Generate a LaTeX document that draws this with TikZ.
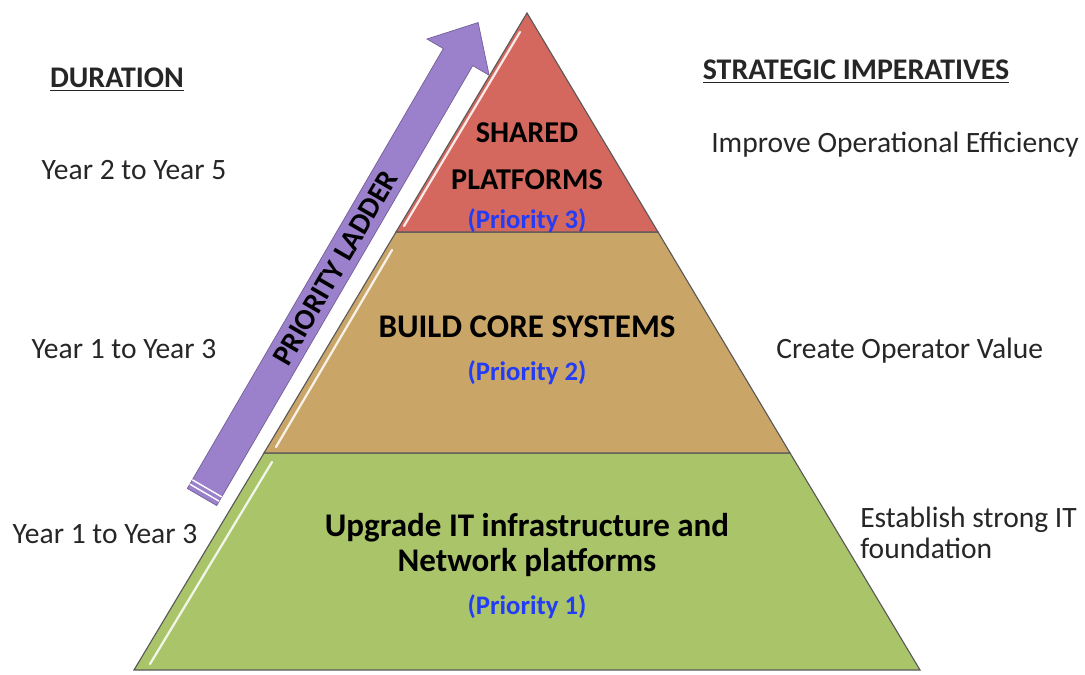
\documentclass[tikz,border=0pt]{standalone}
\usepackage{fontspec}
\setmainfont{Carlito}
\usetikzlibrary{positioning}
\definecolor{topred}{RGB}{212,104,94}
\definecolor{midtan}{RGB}{202,165,104}
\definecolor{basegreen}{RGB}{170,196,106}
\definecolor{ladder}{RGB}{155,128,203}
\definecolor{prioblue}{RGB}{35,60,245}
\tikzset{
	side/.style={font=\fontsize{21}{25}\selectfont, text=black!85, inner sep=0pt},
	head/.style={font=\fontsize{21.3}{25}\selectfont\bfseries, text=black!85, inner sep=0pt},
	level/.style={draw=black!65, line width=0.8pt},
	title/.style={font=\fontsize{21.5}{25}\selectfont\bfseries, inner sep=0pt},
	prio/.style={font=\fontsize{19}{23}\selectfont\bfseries, text=prioblue, inner sep=0pt},
	shine/.style={white, line width=1.6pt, opacity=.85, line cap=round}
}

\begin{document}
\begin{tikzpicture}[x=0.025cm,y=-0.025cm]
		\useasboundingbox (0,0) rectangle (1085,675);
		% corners of the pyramid
		\coordinate (apex) at (527,13);
		\coordinate (l1) at (396,232); \coordinate (r1) at (658,232);
		\coordinate (l2) at (264,453); \coordinate (r2) at (790,453);
		\coordinate (l3) at (134,670); \coordinate (r3) at (920,670);
		\filldraw[level,fill=basegreen] (l2) -- (r2) -- (r3) -- (l3) -- cycle;
		\filldraw[level,fill=midtan] (l1) -- (r1) -- (r2) -- (l2) -- cycle;
		\filldraw[level,fill=topred] (l1) -- (apex) -- (r1) -- cycle;
		\draw[shine] (404,226) -- (520,32);
		\draw[shine] (276,447) -- (392,250);
		\draw[shine] (272,462) -- (150,664);
		% priority ladder
		\begin{scope}[shift={(202,497)},rotate=59.8]
			\filldraw[fill=ladder,draw=ladder!75!black,line width=.5pt] (0,-17) -- (509,-17) -- (509,-36) -- (549,0) -- (509,36) -- (509,17) -- (0,17) -- cycle;
			\draw[white,line width=1pt] (5,-17) -- (5,17);
			\draw[white,line width=1pt] (10,-17) -- (10,17);
			\node[title,font=\fontsize{21}{25}\selectfont\bfseries,rotate=59.8] (ladtext) at (265,0) {PRIORITY LADDER};
		\end{scope}
		% pyramid texts
		\node[title] (shared) at (527,133) {SHARED};
		\node[title] (platf) at (527,180) {PLATFORMS};
		\node[prio] (prio3) at (527,221) {(Priority 3)};
		\node[title,font=\fontsize{23.5}{27}\selectfont\bfseries] (core) at (527,327) {BUILD CORE SYSTEMS};
		\node[prio] (prio2) at (527,373) {(Priority 2)};
		\node[title,font=\fontsize{23.5}{27}\selectfont\bfseries] (upg) at (527,528) {Upgrade IT infrastructure and};
		\node[title,font=\fontsize{23.5}{27}\selectfont\bfseries] (netw) at (527,563) {Network platforms};
		\node[prio] (prio1) at (527,607) {(Priority 1)};
		% left and right columns
		\node[head,anchor=base] (dur) at (117,88) {\underline{DURATION}};
		\node[head,anchor=base] (strat) at (856,80) {\underline{STRATEGIC IMPERATIVES}};
		\node[side,anchor=base] (yr3) at (134,180) {Year 2 to Year 5};
		\node[side,anchor=base] (yr2) at (124,358) {Year 1 to Year 3};
		\node[side,anchor=base] (yr1) at (105,543) {Year 1 to Year 3};
		\node[side,anchor=base west] (imp3) at (711,153) {Improve Operational Efficiency};
		\node[side,anchor=base west] (imp2) at (776,358) {Create Operator Value};
		\node[side,anchor=base west] (imp1) at (860,527) {Establish strong IT};
		\node[side,anchor=base west] (imp1b) at (860,558) {foundation};
	\end{tikzpicture}
\end{document}
